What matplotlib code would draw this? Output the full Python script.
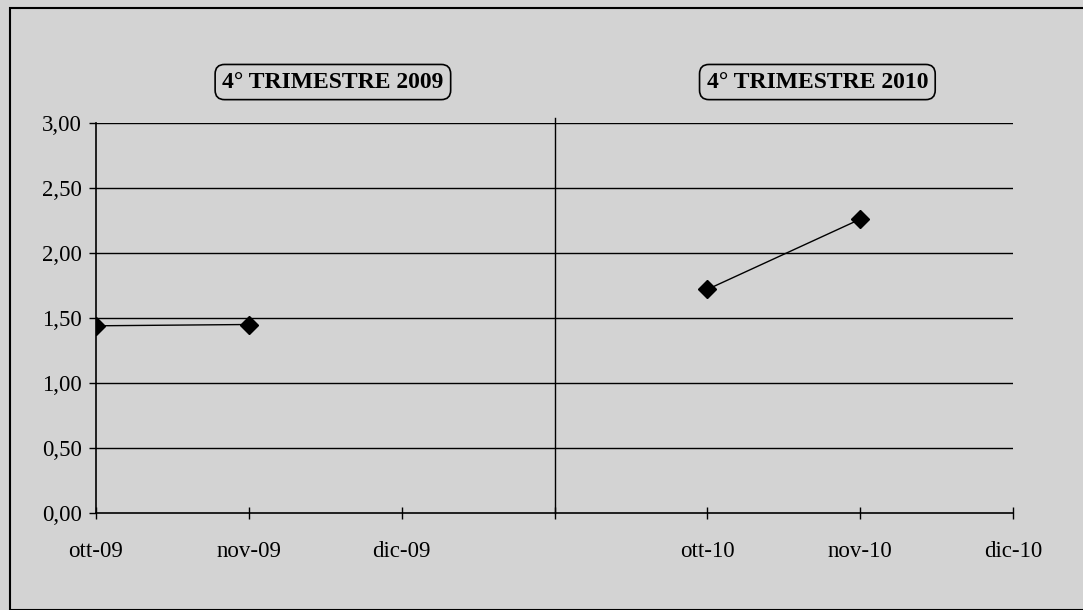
#!/usr/bin/env python3

import matplotlib
matplotlib.use("Agg")
import matplotlib.pyplot as plt
from matplotlib.patches import Rectangle
from matplotlib.ticker import FuncFormatter

# categories along the x axis (the blank slot separates the two quarters)
months = ['ott-09', 'nov-09', 'dic-09', '', 'ott-10', 'nov-10', 'dic-10']

# values
q2009_pos = [0, 1]
q2009_vals = [1.44, 1.45]
q2010_pos = [4, 5]
q2010_vals = [1.72, 2.26]

box_labels = ['4° TRIMESTRE 2009', '4° TRIMESTRE 2010']
box_x = [1.55, 4.72]

y_ticks = [0, 0.5, 1.0, 1.5, 2.0, 2.5, 3.0]

BG = '#d3d3d3'


def comma_fmt(v, pos):
    return f"{v:.2f}".replace('.', ',')


def main():
    plt.rcParams['font.family'] = ['Liberation Serif', 'DejaVu Serif']

    fig = plt.figure(figsize=(10.83, 6.10), dpi=100, facecolor=BG)
    ax = fig.add_axes([96 / 1083, 1 - 513 / 610, (1013 - 96) / 1083, 390 / 610])
    ax.set_facecolor(BG)

    ax.set_xlim(0, len(months) - 1)
    ax.set_ylim(0, 3.0)

    # gridlines
    for y in y_ticks[1:]:
        ax.axhline(y, color='black', linewidth=1.0, zorder=1)
    # divider between the two quarters
    ax.axvline(3, ymin=0, ymax=1.012, color='black', linewidth=1.0, clip_on=False, zorder=1)

    ax.plot(q2009_pos, q2009_vals, color='black', linewidth=1.0, marker='D',
            markersize=9, zorder=3)
    ax.plot(q2010_pos, q2010_vals, color='black', linewidth=1.0, marker='D',
            markersize=9, zorder=3)

    ax.set_xticks(range(len(months)))
    ax.set_xticklabels(months)
    ax.set_yticks(y_ticks)
    ax.yaxis.set_major_formatter(FuncFormatter(comma_fmt))

    ax.tick_params(axis='x', direction='inout', length=8, width=1, pad=16, labelsize=16.5)
    ax.tick_params(axis='y', direction='out', length=5, width=1, pad=5, labelsize=16.5)

    for side in ['top', 'right']:
        ax.spines[side].set_visible(False)
    for side in ['left', 'bottom']:
        ax.spines[side].set_linewidth(1.2)

    for label, x in zip(box_labels, box_x):
        ax.text(x, 1.105, label, transform=ax.get_xaxis_transform(),
                ha='center', va='center', fontsize=17, fontweight='bold',
                bbox=dict(boxstyle='round,pad=0.3,rounding_size=0.4',
                          facecolor=BG, edgecolor='black', linewidth=1.2))

    # outer frame of the chart area
    fig.patches.append(Rectangle((10 / 1083, 0), 1.2, 1 - 8 / 610,
                                 transform=fig.transFigure, fill=False,
                                 edgecolor='black', linewidth=1.5))

    fig.savefig('out.png', dpi=100, facecolor=BG)


if __name__ == '__main__':
    main()
